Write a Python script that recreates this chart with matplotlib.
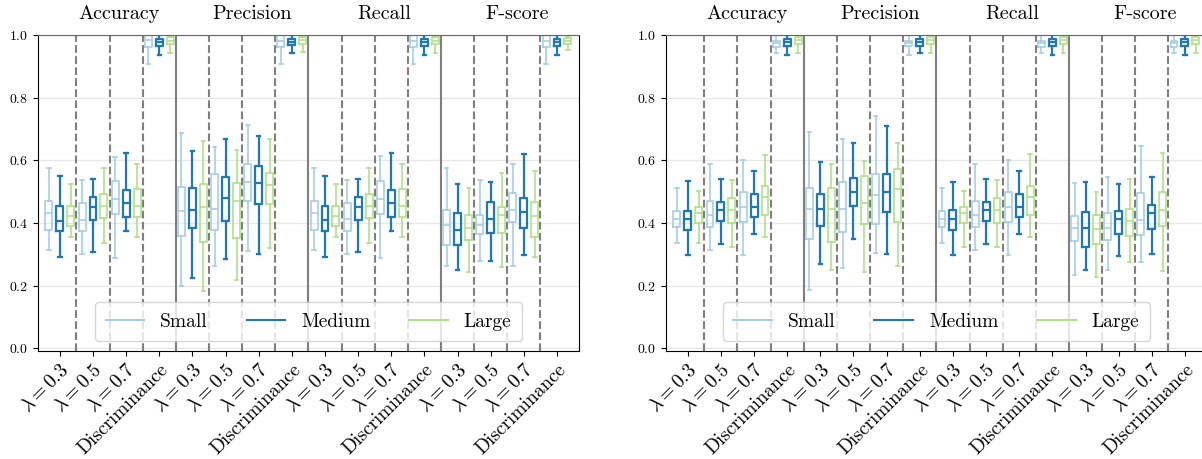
import matplotlib.pyplot as plt
from matplotlib.lines import Line2D
import matplotlib.transforms as mtransforms

plt.rcParams['font.family'] = 'serif'
plt.rcParams['font.serif'] = ['cmr10']
plt.rcParams['mathtext.fontset'] = 'cm'
plt.rcParams['axes.formatter.use_mathtext'] = True

metrics = ['Accuracy', 'Precision', 'Recall', 'F-score']
conditions = [r'$\lambda = 0.3$', r'$\lambda = 0.5$', r'$\lambda = 0.7$', 'Discriminance']
sizes = ['Small', 'Medium', 'Large']
colors = ['#a6cee3', '#1f78b4', '#b2df8a']

# box stats: (whisker low, q1, median, q3, whisker high)
# ordered by condition (0.3, 0.5, 0.7, Discriminance), then Small / Medium / Large

# left panel
acc_a = [(0.313, 0.379, 0.432, 0.471, 0.575), (0.292, 0.375, 0.408, 0.456, 0.551), (0.356, 0.392, 0.422, 0.456, 0.526),
         (0.300, 0.374, 0.411, 0.463, 0.538), (0.309, 0.409, 0.451, 0.484, 0.541), (0.338, 0.416, 0.453, 0.494, 0.575),
         (0.288, 0.428, 0.476, 0.534, 0.612), (0.376, 0.419, 0.463, 0.506, 0.625), (0.356, 0.419, 0.454, 0.510, 0.587),
         (0.906, 0.962, 0.983, 1.000, 1.000), (0.937, 0.966, 0.977, 0.986, 1.000), (0.944, 0.972, 0.982, 0.992, 0.994)]
prec_a = [(0.198, 0.359, 0.440, 0.515, 0.686), (0.224, 0.384, 0.441, 0.513, 0.630), (0.182, 0.341, 0.451, 0.524, 0.663),
          (0.264, 0.378, 0.445, 0.558, 0.643), (0.284, 0.406, 0.481, 0.546, 0.667), (0.220, 0.352, 0.471, 0.529, 0.633),
          (0.310, 0.470, 0.532, 0.590, 0.712), (0.300, 0.462, 0.528, 0.582, 0.679), (0.320, 0.460, 0.521, 0.559, 0.669),
          (0.909, 0.962, 0.980, 1.000, 1.000), (0.941, 0.969, 0.978, 0.987, 1.000), (0.946, 0.972, 0.983, 0.992, 0.994)]
rec_a = [(0.313, 0.379, 0.432, 0.472, 0.575), (0.292, 0.375, 0.410, 0.456, 0.551), (0.356, 0.392, 0.424, 0.456, 0.526),
         (0.300, 0.374, 0.413, 0.463, 0.538), (0.309, 0.409, 0.451, 0.484, 0.542), (0.338, 0.416, 0.455, 0.494, 0.575),
         (0.288, 0.428, 0.476, 0.534, 0.613), (0.376, 0.419, 0.464, 0.506, 0.625), (0.356, 0.419, 0.454, 0.510, 0.587),
         (0.907, 0.962, 0.981, 1.000, 1.000), (0.937, 0.966, 0.977, 0.986, 1.000), (0.944, 0.972, 0.982, 0.992, 0.994)]
f1_a = [(0.262, 0.331, 0.393, 0.442, 0.575), (0.249, 0.330, 0.379, 0.431, 0.526), (0.245, 0.345, 0.383, 0.426, 0.511),
        (0.280, 0.366, 0.393, 0.425, 0.536), (0.280, 0.369, 0.413, 0.466, 0.532), (0.259, 0.369, 0.425, 0.452, 0.560),
        (0.263, 0.402, 0.442, 0.497, 0.590), (0.297, 0.385, 0.436, 0.481, 0.621), (0.293, 0.357, 0.424, 0.467, 0.567),
        (0.906, 0.962, 0.981, 1.000, 1.000), (0.937, 0.966, 0.977, 0.986, 1.000), (0.951, 0.971, 0.981, 0.991, 0.994)]

# right panel
acc_b = [(0.337, 0.387, 0.414, 0.438, 0.513), (0.299, 0.379, 0.414, 0.437, 0.533), (0.337, 0.400, 0.431, 0.451, 0.501),
         (0.313, 0.387, 0.425, 0.472, 0.589), (0.333, 0.408, 0.442, 0.466, 0.542), (0.324, 0.400, 0.443, 0.479, 0.538),
         (0.299, 0.402, 0.452, 0.499, 0.600), (0.366, 0.418, 0.451, 0.492, 0.567), (0.356, 0.427, 0.482, 0.517, 0.618),
         (0.942, 0.962, 0.975, 0.981, 1.000), (0.937, 0.964, 0.977, 0.988, 1.000), (0.943, 0.972, 0.983, 0.992, 1.000)]
prec_b = [(0.188, 0.349, 0.445, 0.511, 0.689), (0.269, 0.392, 0.444, 0.492, 0.595), (0.251, 0.341, 0.444, 0.511, 0.589),
          (0.257, 0.370, 0.444, 0.532, 0.667), (0.350, 0.453, 0.499, 0.543, 0.657), (0.243, 0.397, 0.464, 0.549, 0.599),
          (0.303, 0.397, 0.491, 0.555, 0.742), (0.300, 0.436, 0.499, 0.555, 0.710), (0.264, 0.402, 0.509, 0.572, 0.656),
          (0.937, 0.964, 0.975, 0.981, 1.000), (0.941, 0.966, 0.978, 0.988, 1.000), (0.944, 0.972, 0.983, 0.992, 1.000)]
rec_b = [(0.337, 0.387, 0.414, 0.438, 0.513), (0.299, 0.378, 0.413, 0.442, 0.532), (0.324, 0.400, 0.431, 0.451, 0.501),
         (0.313, 0.387, 0.425, 0.472, 0.588), (0.333, 0.408, 0.442, 0.466, 0.542), (0.324, 0.400, 0.443, 0.479, 0.538),
         (0.299, 0.402, 0.451, 0.499, 0.600), (0.366, 0.418, 0.451, 0.492, 0.567), (0.356, 0.427, 0.482, 0.517, 0.619),
         (0.942, 0.962, 0.975, 0.981, 1.000), (0.937, 0.964, 0.977, 0.988, 1.000), (0.943, 0.972, 0.983, 0.992, 1.000)]
f1_b = [(0.233, 0.343, 0.383, 0.424, 0.529), (0.249, 0.323, 0.383, 0.434, 0.532), (0.228, 0.333, 0.381, 0.425, 0.499),
        (0.251, 0.347, 0.385, 0.432, 0.548), (0.296, 0.365, 0.413, 0.438, 0.526), (0.275, 0.358, 0.408, 0.444, 0.542),
        (0.277, 0.363, 0.411, 0.496, 0.647), (0.302, 0.380, 0.433, 0.459, 0.546), (0.248, 0.392, 0.442, 0.498, 0.622),
        (0.942, 0.962, 0.975, 0.981, 1.000), (0.937, 0.964, 0.977, 0.988, 1.000), (0.943, 0.972, 0.983, 0.992, 1.000)]

offsets = [-0.33, 0.0, 0.33]
line_widths = [1.2, 1.6, 1.2]


def draw_panel(ax, panel):
    for s in range(3):
        stats = []
        positions = []
        for m, metric_stats in enumerate(panel):
            for c in range(4):
                lo, q1, med, q3, hi = metric_stats[c * 3 + s]
                stats.append(dict(whislo=lo, q1=q1, med=med, q3=q3, whishi=hi, fliers=[]))
                positions.append(4 * m + c + offsets[s])
        props = dict(color=colors[s], lw=line_widths[s])
        ax.bxp(stats, positions=positions, widths=0.21, showfliers=False,
               boxprops=props, whiskerprops=props, capprops=props,
               medianprops=props, manage_ticks=False)

    # separators between conditions and between metrics
    for i in range(15):
        ls = '-' if (i + 1) % 4 == 0 else '--'
        ax.axvline(i + 0.5, color='#7f7f7f', lw=1.5, ls=ls, zorder=1)

    ax.set_xlim(-0.66, 15.66)
    ax.set_ylim(-0.008, 1.0)
    ax.set_yticks([0.0, 0.2, 0.4, 0.6, 0.8, 1.0])
    ax.tick_params(axis='y', labelsize=10)
    ax.set_xticks(range(16))
    ax.set_xticklabels(conditions * 4, rotation=45, ha='right',
                       rotation_mode='anchor', fontsize=14)
    ax.yaxis.grid(True, color='#e8e8e8', lw=1)
    ax.set_axisbelow(True)
    ax.spines['top'].set_color('#666666')

    trans = mtransforms.blended_transform_factory(ax.transData, ax.transAxes)
    for m, name in enumerate(metrics):
        ax.text(4 * m + 1.8, 1.05, name, transform=trans, ha='center',
                va='baseline', fontsize=14.5)

    handles = [Line2D([], [], color=col, lw=1.5) for col in colors]
    ax.legend(handles, sizes, loc='lower center', ncol=3, fontsize=14,
              columnspacing=2.0, borderpad=0.55)


fig = plt.figure(figsize=(12.02, 4.59), dpi=100)
ax1 = fig.add_axes([0.0316, 0.2353, 0.450, 0.6885])
ax2 = fig.add_axes([0.554, 0.2353, 0.450, 0.6885])

draw_panel(ax1, [acc_a, prec_a, rec_a, f1_a])
draw_panel(ax2, [acc_b, prec_b, rec_b, f1_b])

fig.savefig('out.png', dpi=100)
